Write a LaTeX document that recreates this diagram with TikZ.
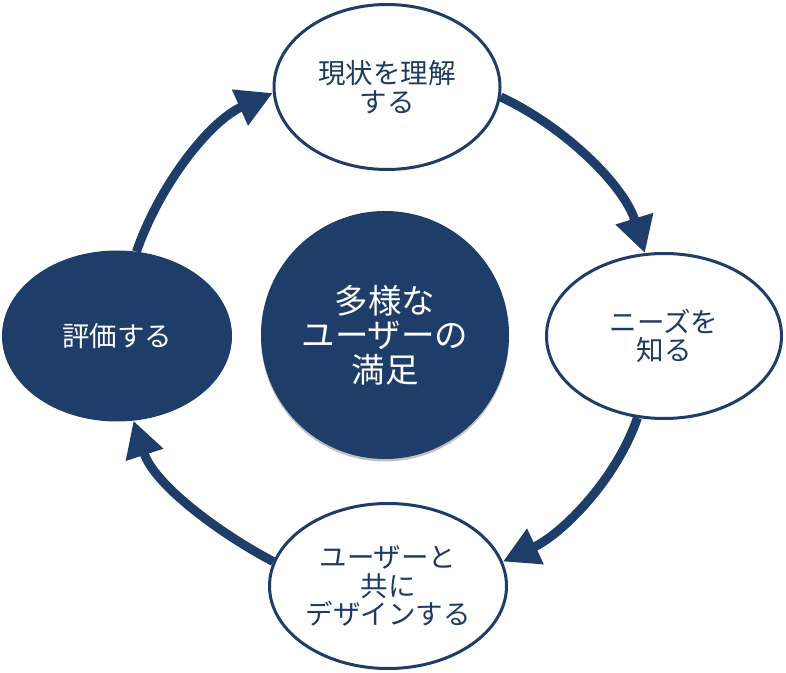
\documentclass[tikz,border=0pt]{standalone}
\usepackage{fontspec}
\newfontfamily\jp{Noto Sans CJK JP}
\usetikzlibrary{arrows.meta,shapes.geometric,shadows}
\definecolor{navy}{HTML}{1E3D69}
\definecolor{navytext}{HTML}{1F3A62}
\begin{document}
\begin{tikzpicture}[x=1pt,y=1pt,
  stepnode/.style={ellipse,draw=navy,line width=3pt,fill=white,inner sep=0pt,
    text=navytext,align=center,font=\jp\fontsize{27.5}{28.5}\selectfont},
  evalnode/.style={ellipse,draw=navy,line width=1pt,fill=navy,inner sep=0pt,
    text=white,align=center,font=\jp\fontsize{27.5}{28.5}\selectfont},
  hubnode/.style={circle,fill=navy,inner sep=0pt,minimum size=248pt,
    text=white,align=center,font=\jp\fontsize{33.5}{34.5}\selectfont,
    drop shadow={shadow xshift=0pt,shadow yshift=-2.5pt,opacity=0.35,fill=black!70}},
  cyclearrow/.style={draw=navy,line width=9pt,looseness=0.85,
    -{Triangle[length=36pt,width=37pt,fill=navy]}}
]
\useasboundingbox (0,0) rectangle (786,672);
\node[stepnode,minimum width=226pt,minimum height=165pt] (top) at (387,585) {現状を理解\\する};
\node[stepnode,minimum width=235pt,minimum height=165pt] (right) at (664,336) {ニーズを\\知る};
\node[stepnode,minimum width=237pt,minimum height=165pt] (bottom) at (388,86) {ユーザーと\\共に\\デザインする};
\node[evalnode,minimum width=229pt,minimum height=170pt] (left) at (117,336) {評価する};
\node[hubnode] (hub) at (385,337) {多様な\\ユーザーの\\満足};
\draw[cyclearrow] (top.-5) to[out=-25,in=107] (right.103);
\draw[cyclearrow] (right.252) to[out=251,in=25] (bottom.12);
\draw[cyclearrow] (bottom.168) to[out=152,in=288] (left.281);
\draw[cyclearrow] (left.77) to[out=71,in=204] (top.183);
\end{tikzpicture}
\end{document}
